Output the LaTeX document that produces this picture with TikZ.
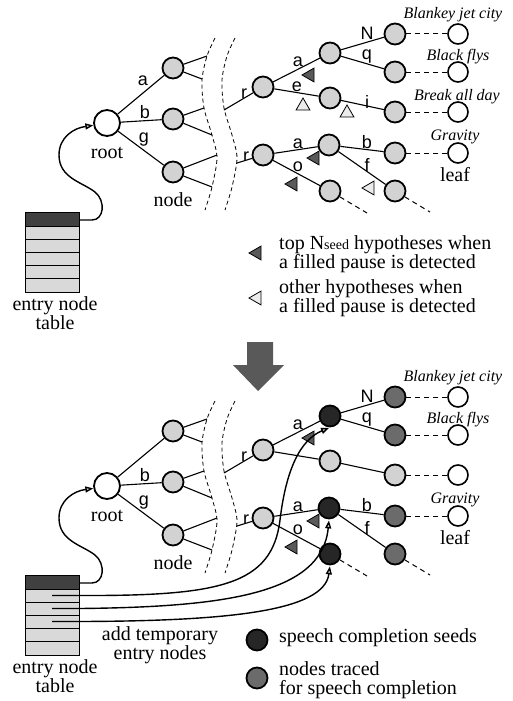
\documentclass[tikz,border=0pt]{standalone}
\usepackage{fontspec}
\setmainfont{Liberation Serif}
\newfontfamily\edgefont{Liberation Sans}
\usetikzlibrary{arrows.meta,shapes.geometric}
\tikzset{
  tnode/.style={circle,draw,line width=1.8pt,fill=gray!35,minimum size=21pt,inner sep=0pt},
  seednode/.style={tnode,fill=black!85},
  tracednode/.style={tnode,fill=black!58},
  leafnode/.style={circle,draw,line width=1.6pt,fill=white,minimum size=20pt,inner sep=0pt},
  rootnode/.style={circle,draw,line width=1.8pt,fill=white,minimum size=26pt,inner sep=0pt},
  tabbox/.style={rectangle,fill=gray!30,minimum width=53pt,minimum height=79pt,inner sep=0pt},
  branch/.style={line width=1.1pt},
  cut/.style={line width=0.8pt,dash pattern=on 4pt off 3pt},
  tail/.style={line width=1pt,dash pattern=on 5pt off 4pt},
  elabel/.style={font=\edgefont\fontsize{18}{18}\selectfont,inner sep=0pt},
  lbl/.style={font=\fontsize{20}{17.5}\selectfont,align=center,inner sep=0pt},
  keylbl/.style={font=\fontsize{20}{19}\selectfont,align=left,anchor=west,inner sep=0pt},
  leaflbl/.style={font=\itshape\fontsize{16}{16}\selectfont,inner sep=0pt},
  hypo/.style={isosceles triangle,isosceles triangle apex angle=60,draw,line width=0.8pt,inner sep=0pt,minimum size=12pt},
  tophyp/.style={hypo,fill=black!65},
  otherhyp/.style={hypo,fill=gray!15},
  feed/.style={line width=1.4pt,-{Triangle[length=8pt,width=6pt,fill=gray!40]}},
}

% table, root, first level and the cut  (#1 = name prefix)
\newcommand\leftpart[1]{%
  \node[tabbox] (#1tab) at (52.5,252.5) {};
  \fill[black!75] (26,213) rectangle (79,226);
  \draw[line width=0.9pt] (26,226) -- (79,226);
  \foreach \k in {1,...,4}
    \draw[line width=0.9pt] (26,226+13.2*\k) -- (79,226+13.2*\k);
  \draw[line width=1pt] (#1tab.north west) rectangle (#1tab.south east);
  \node[lbl] (#1tabtxt) at (55,313) {entry node\\table};
  \node[rootnode] (#1root) at (107,123) {};
  \node[lbl] (#1roottxt) at (107,153) {root};
  \node[tnode] (#1na) at (173,68) {};
  \node[tnode] (#1nb) at (173,119) {};
  \node[tnode] (#1ng) at (173,172) {};
  \node[lbl] (#1nodetxt) at (173,200) {node};
  \draw[branch] (#1root) -- (#1na) (#1root) -- (#1nb) (#1root) -- (#1ng);
  \node[elabel] (#1lb) at (145,112) {b};
  \node[elabel] (#1lg) at (144,140) {g};
  % stubs running into the cut
  \foreach \n/\xa/\ya/\xb/\yb in {na/207/56/202/79, nb/204/108/212/135, ng/217/155/212/187}{
    \coordinate (#1\n u) at (\xa,\ya);
    \coordinate (#1\n d) at (\xb,\yb);
    \draw[branch] (#1\n) -- (#1\n u) (#1\n) -- (#1\n d);
  }
  \draw[cut] plot[smooth] coordinates {(215,38) (207,56) (202,80) (204,108) (212,135) (217,158) (212,187) (205,210)};
  \draw[cut,xshift=20pt] plot[smooth] coordinates {(215,38) (207,56) (202,80) (204,108) (212,135) (217,158) (212,187) (205,210)};
  \node[tnode] (#1rt) at (263,87) {};
  \node[tnode] (#1rb) at (263,155) {};
  \coordinate (#1ct) at (224,110);
  \coordinate (#1cb) at (237,163);
  \draw[branch] (#1ct) -- (#1rt) (#1cb) -- (#1rb);
  \node[elabel] (#1lrt) at (244,94) {r};
  \node[elabel] (#1lrb) at (246,157) {r};
  % entry pointer to the root
  \coordinate (#1out) at (79,220);
  \draw[feed] (#1out) -- (92,220) .. controls (104,220) and (106,201) .. (95,192)
     .. controls (82,182) and (59,178) .. (59,155) .. controls (59,137) and (74,128) .. (#1root.190);
}

% subtrees behind the cut  (#2 a, #3 N/q, #4 a/o, #5 b/f)
\newcommand\rightpart[5]{%
  \node[#2] (#1a) at (330,53) {};
  \node[tnode] (#1e) at (330,98) {};
  \node[#3] (#1N) at (395,34) {};
  \node[#3] (#1q) at (395,72) {};
  \node[tnode] (#1i) at (395,112) {};
  \node[#4] (#1ba) at (329,145) {};
  \node[#4] (#1bo) at (330,191) {};
  \node[#5] (#1bb) at (395,153) {};
  \node[#5] (#1bf) at (395,191) {};
  \foreach \k/\ly in {1/34,2/72,3/112,4/153}
    \node[leafnode] (#1leaf\k) at (458,\ly) {};
  \draw[branch] (#1rt) -- (#1a) (#1rt) -- (#1e) (#1a) -- (#1N) (#1a) -- (#1q) (#1e) -- (#1i)
    (#1rb) -- (#1ba) (#1rb) -- (#1bo) (#1ba) -- (#1bb) (#1ba) -- (#1bf);
  \draw[tail] (#1N) -- (#1leaf1) (#1q) -- (#1leaf2) (#1i) -- (#1leaf3) (#1bb) -- (#1leaf4);
  \coordinate (#1oend) at (367,213);
  \coordinate (#1fend) at (430,212);
  \draw[tail] (#1bo) -- (#1oend) (#1bf) -- (#1fend);
  \node[elabel] (#1la) at (298,62) {a};
  \node[elabel] (#1lN) at (367,33) {N};
  \node[elabel] (#1lq) at (367,57) {q};
  \node[elabel] (#1lba) at (298,144) {a};
  \node[elabel] (#1lbo) at (298,167) {o};
  \node[elabel] (#1lbb) at (367,142) {b};
  \node[elabel] (#1lbf) at (367,165) {f};
  \node[leaflbl] (#1t1) at (453,15) {Blankey jet city};
  \node[leaflbl] (#1t2) at (458,57) {Black flys};
  \node[leaflbl] (#1t4) at (455,137) {Gravity};
  \node[lbl] (#1t5) at (455,175) {leaf};
  \node[tophyp,shape border rotate=200] (#1h1) at (310,75) {};
  \node[tophyp,shape border rotate=160] (#1h4) at (315,158) {};
  \node[tophyp,shape border rotate=150] (#1h5) at (293,184) {};
}

\begin{document}
\begin{tikzpicture}[x=1pt,y=-1pt]
\useasboundingbox (0,0) rectangle (513,701);

% before: filled pause detected
\leftpart{u}
\rightpart{u}{tnode}{tnode}{tnode}{tnode}
\node[elabel] (ula1) at (143,81) {a};
\node[elabel] (ule) at (297,87) {e};
\node[elabel] (uli) at (367,102) {i};
\node[leaflbl] (ut3) at (457,97) {Break all day};
\node[otherhyp,shape border rotate=100] (uh2) at (303,106) {};
\node[otherhyp,shape border rotate=100] (uh3) at (347,113) {};
\node[otherhyp,shape border rotate=170] (uh6) at (370,188) {};

% key
\node[tophyp,shape border rotate=180] (key1) at (257,253) {};
\node[keylbl] (key1txt) at (279,254) {top N{\fontsize{14}{14}\selectfont seed} hypotheses when\\a filled pause is detected};
\node[otherhyp,shape border rotate=180] (key2) at (257,298) {};
\node[keylbl] (key2txt) at (279,298) {other hypotheses when\\a filled pause is detected};

\fill[black!65] (247,342) -- (273,342) -- (273,365) -- (284,365) -- (258,391) -- (233,365) -- (247,365) -- cycle;

% after: temporary entry nodes
\begin{scope}[shift={(0,363)}]
  \leftpart{l}
  \rightpart{l}{seednode}{tracednode}{seednode}{tracednode}
  \coordinate (ls1) at (52,232.5);
  \coordinate (ls2) at (52,245.5);
  \coordinate (ls3) at (52,258.5);
  \draw[feed,shorten >=1pt] (ls1) -- (80,232.5) .. controls (220,233) and (272,222) .. (280,157)
    .. controls (286,107) and (300,77) .. (la.south);
  \draw[feed,shorten >=1pt] (ls2) -- (80,245.5) .. controls (220,244) and (322,232) .. (lba.south);
  \draw[feed,shorten >=1pt] (ls3) -- (80,258.5) .. controls (230,258) and (324,248) .. (lbo.south);
\end{scope}

\node[lbl] (addtxt) at (160,645) {add temporary\\entry nodes};
\node[seednode] (key3) at (257,640) {};
\node[keylbl] (key3txt) at (279,638) {speech completion seeds};
\node[tracednode] (key4) at (257,678) {};
\node[keylbl] (key4txt) at (279,680) {nodes traced\\for speech completion};
\end{tikzpicture}
\end{document}
